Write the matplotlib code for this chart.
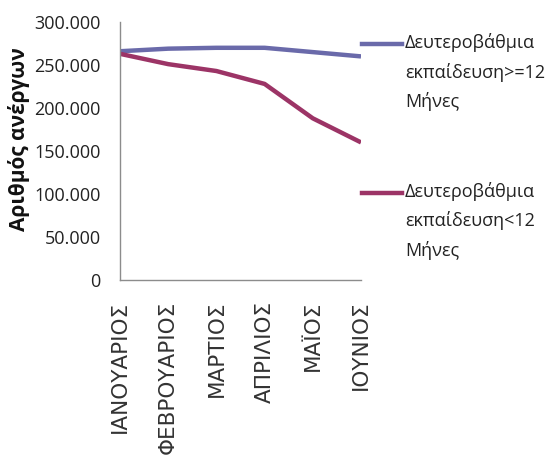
import matplotlib
matplotlib.use("Agg")
import matplotlib.pyplot as plt
from matplotlib.lines import Line2D
from matplotlib.ticker import FuncFormatter

months = ["ΙΑΝΟΥΑΡΙΟΣ", "ΦΕΒΡΟΥΑΡΙΟΣ", "ΜΑΡΤΙΟΣ", "ΑΠΡΙΛΙΟΣ", "ΜΑΪΟΣ", "ΙΟΥΝΙΟΣ"]
series_names = ["Δευτεροβάθμια\nεκπαίδευση>=12\nΜήνες",
                "Δευτεροβάθμια\nεκπαίδευση<12\nΜήνες"]
long_term = [266000, 269000, 270000, 270000, 265000, 260000]
short_term = [263000, 251000, 243000, 228000, 188000, 160000]
colors = ["#6a6aaa", "#9c3466"]
y_ticks = [0, 50000, 100000, 150000, 200000, 250000, 300000]

fig = plt.figure(figsize=(5.47, 4.65), dpi=100)
ax = fig.add_axes([120 / 547, 1 - 280 / 465, 241 / 547, 258 / 465])

x = list(range(len(months)))
ax.plot(x, long_term, color=colors[0], lw=3.2, solid_capstyle="butt")
ax.plot(x, short_term, color=colors[1], lw=3.2, solid_capstyle="butt")

ax.set_xlim(0, len(months) - 1)
ax.set_ylim(0, 300000)
ax.set_yticks(y_ticks)
ax.yaxis.set_major_formatter(FuncFormatter(lambda v, p: f"{int(v):,}".replace(",", ".")))
ax.set_xticks(x)
ax.set_xticklabels(months, rotation=90, fontsize=15.5, family="DejaVu Sans", color="#333333")
ax.tick_params(axis="x", length=0, pad=15)
ax.tick_params(axis="y", length=0, pad=14, labelsize=13, labelcolor="#222222")
for lab in ax.get_yticklabels():
    lab.set_family("Open Sans")

for s in ["top", "right"]:
    ax.spines[s].set_visible(False)
for s in ["left", "bottom"]:
    ax.spines[s].set_color("#8c8c8c")
    ax.spines[s].set_linewidth(1.0)

fig.text(19 / 547, 1 - 139 / 465, "Αριθμός ανέργων", rotation=90, ha="center", va="center",
         fontsize=15, fontweight="bold", family="Open Sans", color="#111111")

# legend
leg_y = [44, 193]
for name, col, yy in zip(series_names, colors, leg_y):
    fig.add_artist(Line2D([362 / 547, 402 / 547], [1 - yy / 465] * 2, color=col, lw=3.2,
                          transform=fig.transFigure))
    fig.text(405 / 547, 1 - (yy - 11) / 465, name, ha="left", va="top", fontsize=13,
             family="Open Sans", color="#222222", linespacing=1.7)

fig.savefig("out.png", dpi=100)
